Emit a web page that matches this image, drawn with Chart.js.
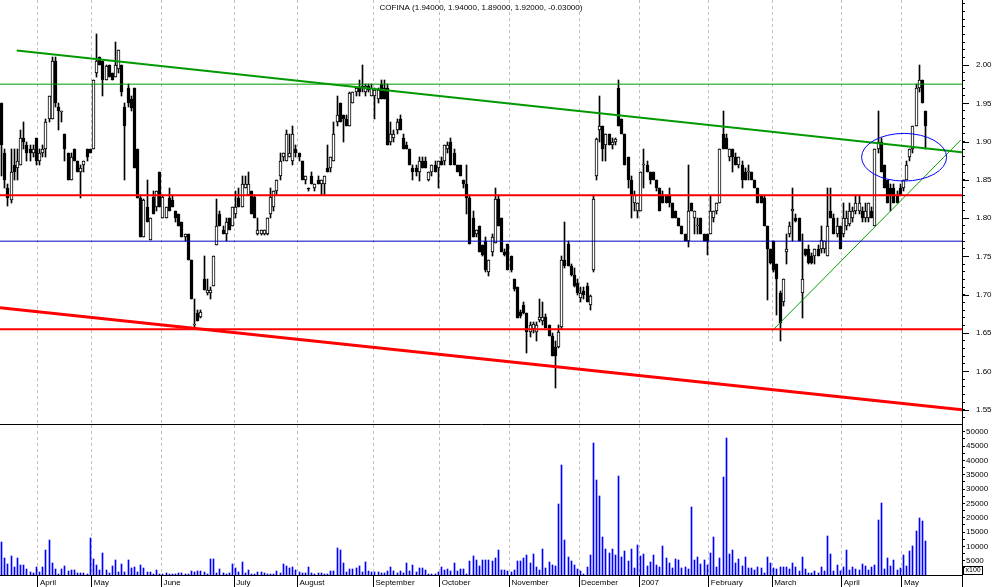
<!DOCTYPE html>
<html><head><meta charset="utf-8">
<script src="https://cdn.jsdelivr.net/npm/chart.js"></script>
<style>
html,body{margin:0;padding:0;background:#fff;}
#wrap{position:relative;width:994px;height:587px;overflow:hidden;background:#fff;}
#pc{position:absolute;left:0;top:0;width:994px;height:425px;}
#vc{position:absolute;left:0;top:425px;width:994px;height:162px;}
</style></head><body>
<div id="wrap">
<canvas id="pc" width="994" height="425"></canvas>
<canvas id="vc" width="994" height="162"></canvas>
</div>
<script>
// ---- data ----
const titleText = 'COFINA (1.94000, 1.94000, 1.89000, 1.92000, -0.03000)';
const monthLabels = ['April','May','June','July','August','September','October','November','December','2007','February','March','April','May'];
const monthStarts = [12, 29, 51, 74, 94, 118, 139, 161, 183, 202, 224, 244, 266, 285];
const priceTickLabels = ['1.55','1.60','1.65','1.70','1.75','1.80','1.85','1.90','1.95','2.00'];
const volumeTickLabels = ['5000','10000','15000','20000','25000','30000','35000','40000','45000','50000'];
const volumeScaleNote = 'x100';

const opens = [1.95,1.885,1.84,1.824,1.87,1.865,1.87,1.905,1.895,1.89,
 1.885,1.905,1.875,1.885,1.89,1.93,1.93,2.005,1.945,1.939,
 1.91,1.885,1.85,1.89,1.875,1.86,1.87,1.89,1.89,1.89,
 1.99,2.01,2.005,1.98,2.0,1.99,1.985,1.995,2.0,1.945,
 1.97,1.955,1.97,1.89,1.826,1.776,1.815,1.771,1.828,1.815,
 1.86,1.80,1.80,1.826,1.824,1.81,1.805,1.795,1.776,1.78,
 1.745,1.66,1.676,1.671,1.72,1.702,1.702,1.711,1.765,1.805,
 1.785,1.78,1.80,1.79,1.805,1.826,1.815,1.84,1.83,1.835,
 1.828,1.78,1.78,1.78,1.78,1.805,1.815,1.835,1.855,1.88,
 1.875,1.88,1.875,1.89,1.885,1.875,1.85,1.84,1.855,1.84,
 1.85,1.845,1.845,1.865,1.865,1.875,1.925,1.95,1.935,1.93,
 1.92,1.95,1.965,1.97,1.97,1.965,1.972,1.96,1.96,1.955,
 1.975,1.97,1.97,1.90,1.905,1.915,1.93,1.905,1.895,1.89,
 1.865,1.865,1.86,1.875,1.875,1.85,1.86,1.87,1.865,1.875,
 1.875,1.89,1.90,1.885,1.87,1.87,1.85,1.845,1.826,1.80,
 1.78,1.79,1.765,1.77,1.73,1.756,1.767,1.825,1.80,1.756,
 1.766,1.75,1.72,1.71,1.677,1.687,1.676,1.652,1.655,1.652,1.667,
 1.666,1.671,1.66,1.646,1.632,1.632,1.658,1.746,1.766,1.737,
 1.726,1.715,1.696,1.705,1.711,1.687,1.732,1.855,1.915,1.92,
 1.895,1.91,1.895,1.90,1.97,1.93,1.91,1.88,1.85,
 1.82,1.81,1.81,1.87,1.87,1.86,1.86,1.85,1.84,1.83,
 1.83,1.83,1.82,1.81,1.80,1.79,1.78,1.77,1.82,1.80,
 1.79,1.80,1.78,1.78,1.78,1.80,1.81,1.82,1.91,1.905,
 1.88,1.89,1.88,1.87,1.87,1.86,1.86,1.86,1.85,1.84,
 1.83,1.826,1.79,1.76,1.77,1.74,1.702,1.69,1.756,1.78,
 1.81,1.80,1.80,1.702,1.76,1.76,1.75,1.751,1.76,1.76,
 1.76,1.75,1.81,1.80,1.78,1.79,1.78,1.79,1.793,1.80,
 1.81,1.81,1.81,1.80,1.80,1.81,1.79,1.89,1.90,1.87,
 1.85,1.84,1.84,1.83,1.84,1.84,1.85,1.88,1.89,1.92,
 1.97,1.98,1.94];

const highs = [1.95,1.89,1.845,1.89,1.89,1.89,1.915,1.925,1.90,1.895,
 1.895,1.905,1.89,1.895,1.93,1.96,2.01,2.01,1.95,1.94,
 1.91,1.885,1.885,1.89,1.875,1.87,1.875,1.89,1.89,1.98,
 2.04,2.01,2.005,2.0,2.0,1.99,2.03,2.02,2.0,1.95,
 1.975,1.96,1.97,1.89,1.83,1.825,1.85,1.80,1.835,1.835,
 1.86,1.83,1.815,1.84,1.83,1.81,1.805,1.795,1.78,1.78,
 1.745,1.695,1.68,1.68,1.75,1.72,1.71,1.75,1.825,1.81,
 1.79,1.80,1.80,1.815,1.835,1.84,1.855,1.855,1.86,1.835,
 1.83,1.80,1.785,1.785,1.80,1.84,1.835,1.85,1.885,1.885,
 1.915,1.91,1.92,1.895,1.885,1.875,1.855,1.84,1.86,1.845,
 1.855,1.85,1.855,1.895,1.88,1.925,1.96,1.95,1.935,1.935,
 1.965,1.965,1.97,1.98,2.0,1.975,1.975,1.975,1.97,1.97,
 1.98,1.98,1.975,1.925,1.915,1.93,1.935,1.91,1.90,1.89,
 1.87,1.87,1.88,1.88,1.88,1.86,1.87,1.875,1.875,1.88,
 1.895,1.90,1.905,1.89,1.87,1.87,1.85,1.87,1.83,1.81,
 1.785,1.79,1.765,1.775,1.745,1.78,1.84,1.83,1.80,1.76,
 1.766,1.75,1.72,1.71,1.68,1.69,1.676,1.665,1.665,1.665,1.695,
 1.69,1.675,1.66,1.65,1.64,1.66,1.75,1.795,1.77,1.74,
 1.735,1.72,1.71,1.71,1.715,1.70,1.83,1.905,1.96,1.92,
 1.91,1.91,1.905,1.905,1.98,1.93,1.91,1.88,1.855,
 1.835,1.82,1.86,1.89,1.875,1.86,1.86,1.85,1.84,1.835,
 1.83,1.84,1.82,1.81,1.80,1.79,1.78,1.87,1.82,1.81,
 1.80,1.80,1.78,1.78,1.83,1.81,1.82,1.89,1.94,1.91,
 1.89,1.89,1.885,1.88,1.875,1.865,1.87,1.86,1.85,1.84,
 1.83,1.83,1.79,1.76,1.77,1.74,1.705,1.72,1.78,1.795,
 1.84,1.805,1.80,1.78,1.76,1.765,1.755,1.76,1.765,1.79,
 1.77,1.84,1.84,1.805,1.80,1.79,1.82,1.81,1.82,1.815,
 1.83,1.83,1.815,1.82,1.82,1.815,1.89,1.94,1.905,1.87,
 1.85,1.845,1.845,1.835,1.845,1.85,1.875,1.89,1.92,1.975,
 2.00,1.98,1.94];

const lows = [1.855,1.84,1.816,1.82,1.85,1.85,1.87,1.89,1.875,1.875,
 1.88,1.87,1.87,1.88,1.88,1.925,1.93,1.945,1.915,1.925,
 1.875,1.85,1.85,1.875,1.86,1.826,1.86,1.875,1.885,1.89,
 1.985,2.0,1.96,1.98,1.985,1.98,1.985,1.99,1.96,1.85,
 1.945,1.94,1.865,1.826,1.776,1.776,1.795,1.771,1.806,1.81,
 1.815,1.80,1.80,1.81,1.815,1.795,1.79,1.776,1.77,1.745,
 1.695,1.658,1.666,1.67,1.706,1.70,1.695,1.711,1.765,1.79,
 1.78,1.77,1.785,1.79,1.80,1.815,1.815,1.84,1.83,1.805,
 1.80,1.778,1.778,1.778,1.778,1.80,1.81,1.83,1.85,1.875,
 1.875,1.88,1.87,1.88,1.875,1.85,1.845,1.835,1.845,1.835,
 1.845,1.83,1.83,1.86,1.86,1.875,1.92,1.925,1.90,1.92,
 1.92,1.95,1.96,1.96,1.965,1.96,1.965,1.96,1.93,1.95,
 1.955,1.955,1.895,1.895,1.90,1.91,1.915,1.89,1.89,1.87,
 1.85,1.855,1.848,1.865,1.865,1.848,1.855,1.86,1.84,1.87,
 1.87,1.885,1.87,1.87,1.86,1.855,1.84,1.806,1.766,1.776,
 1.775,1.756,1.75,1.73,1.725,1.75,1.767,1.79,1.756,1.75,
 1.732,1.73,1.705,1.67,1.67,1.675,1.624,1.645,1.65,1.64,1.665,
 1.66,1.656,1.646,1.62,1.578,1.63,1.655,1.735,1.737,1.725,
 1.71,1.70,1.69,1.695,1.69,1.68,1.73,1.85,1.90,1.875,
 1.875,1.895,1.89,1.895,1.92,1.91,1.87,1.84,1.80,
 1.81,1.80,1.81,1.84,1.86,1.845,1.85,1.835,1.81,1.82,
 1.82,1.815,1.80,1.80,1.79,1.78,1.77,1.762,1.81,1.78,
 1.78,1.78,1.77,1.752,1.78,1.795,1.805,1.82,1.89,1.89,
 1.875,1.86,1.87,1.865,1.84,1.85,1.85,1.85,1.84,1.82,
 1.82,1.79,1.693,1.74,1.73,1.674,1.64,1.685,1.74,1.775,
 1.77,1.795,1.77,1.67,1.75,1.74,1.74,1.74,1.75,1.755,
 1.755,1.75,1.80,1.78,1.775,1.76,1.775,1.785,1.79,1.795,
 1.805,1.805,1.795,1.795,1.795,1.80,1.79,1.885,1.86,1.84,
 1.82,1.81,1.82,1.82,1.83,1.835,1.85,1.875,1.885,1.92,
 1.965,1.95,1.89];

const closes = [1.895,1.85,1.826,1.86,1.86,1.875,1.905,1.90,1.885,1.885,
 1.89,1.875,1.885,1.89,1.925,1.96,2.005,1.95,1.94,1.94,
 1.89,1.85,1.88,1.875,1.86,1.865,1.875,1.88,1.885,1.98,
 2.005,2.0,1.98,1.999,1.985,1.98,2.0,2.02,1.965,1.92,
 1.95,1.944,1.865,1.826,1.776,1.824,1.795,1.80,1.806,1.835,
 1.815,1.828,1.815,1.81,1.815,1.80,1.79,1.776,1.78,1.745,
 1.695,1.661,1.666,1.678,1.706,1.706,1.706,1.75,1.79,1.79,
 1.78,1.795,1.785,1.815,1.815,1.815,1.845,1.845,1.845,1.805,
 1.80,1.785,1.785,1.785,1.80,1.828,1.835,1.85,1.875,1.885,
 1.91,1.885,1.91,1.885,1.88,1.85,1.855,1.838,1.845,1.845,
 1.845,1.85,1.855,1.86,1.88,1.91,1.935,1.925,1.93,1.92,
 1.963,1.965,1.97,1.965,1.972,1.972,1.968,1.97,1.967,1.967,
 1.955,1.955,1.895,1.91,1.91,1.925,1.915,1.89,1.89,1.87,
 1.86,1.86,1.875,1.865,1.865,1.86,1.87,1.86,1.875,1.87,
 1.895,1.895,1.87,1.87,1.86,1.855,1.845,1.826,1.766,1.776,
 1.785,1.756,1.752,1.732,1.745,1.776,1.825,1.79,1.756,1.752,
 1.732,1.732,1.707,1.67,1.672,1.676,1.652,1.66,1.662,1.661,1.671,
 1.671,1.656,1.646,1.62,1.62,1.652,1.746,1.737,1.737,1.726,
 1.711,1.702,1.702,1.70,1.691,1.698,1.825,1.904,1.92,1.89,
 1.91,1.895,1.90,1.904,1.92,1.91,1.87,1.85,1.83,
 1.83,1.82,1.86,1.87,1.86,1.85,1.85,1.84,1.81,1.82,
 1.82,1.82,1.80,1.80,1.79,1.78,1.77,1.81,1.81,1.81,
 1.79,1.78,1.77,1.77,1.81,1.81,1.82,1.89,1.89,1.89,
 1.89,1.88,1.87,1.88,1.85,1.85,1.861,1.85,1.84,1.82,
 1.82,1.79,1.76,1.741,1.732,1.72,1.663,1.72,1.76,1.79,
 1.812,1.796,1.77,1.72,1.752,1.741,1.741,1.76,1.751,1.771,
 1.77,1.79,1.80,1.78,1.79,1.76,1.80,1.80,1.81,1.81,
 1.82,1.82,1.80,1.81,1.82,1.80,1.89,1.90,1.86,1.84,
 1.82,1.83,1.82,1.82,1.83,1.85,1.87,1.89,1.92,1.97,
 1.98,1.95,1.92];

const volumes = [11630,6050,3840,6630,2800,6050,3490,3490,2100,1050,
 700,2800,1050,2800,8720,12210,4190,2100,300,2100,
 3140,1500,1750,1750,700,700,700,350,12910,5580,
 3490,1750,7680,1750,700,3140,5230,1050,3840,1050,
 5230,2440,2800,1050,3490,2440,1050,1050,350,1750,
 300,300,700,350,350,350,700,700,350,350,
 1400,1050,1400,1400,1050,350,5580,5580,700,2100,
 700,350,700,3840,2440,1050,4540,700,1750,350,
 350,1050,1050,700,0,0,0,1400,700,3840,
 3140,2440,2800,1750,1050,700,700,2800,700,350,
 700,700,350,350,1400,1400,9420,8720,4190,1050,
 2100,2100,2440,3140,1050,4540,1400,1050,1050,1050,
 700,700,1400,2800,1400,700,1400,700,4190,1400,
 3490,1050,2440,2440,1750,350,350,350,1050,2800,
 1750,2100,1400,4190,1400,2100,2100,350,4880,6630,
 5230,3140,5230,5230,5230,4880,5930,8720,1750,1750,
 1400,1050,1750,4880,4880,5930,6980,4190,7330,2800,
 1750,9070,2440,4540,3490,3140,24770,38380,12210,6280,
 4880,3490,2100,1400,350,2800,6980,46050,33150,27560,
 13260,9070,7680,9070,6980,34540,6280,8370,4880,9070,
 2440,10470,6630,7330,3140,4540,6980,3490,2800,10120,
 5930,4190,2440,5580,5230,2440,2800,2100,23730,5230,
 6280,3840,5230,3490,7680,13260,2800,5930,34190,47800,
 7330,8720,4190,5580,3140,6280,2440,2440,1750,2800,
 2440,700,6280,4190,2440,2100,2800,2800,2800,2100,
 4190,2800,1400,6280,2100,700,700,1400,700,2800,
 1400,13610,7330,1400,3490,1400,2800,8720,1750,2800,
 2100,1750,3840,3140,1750,2800,3490,19190,25120,2100,
 5930,3140,5230,1750,2440,6980,3140,8370,10120,15350,
 19890,18840,11860];

// drawn studies: [startIndex, startPrice, endIndex, endPrice]
const greenTrend = [4.8, 2.019, 303.5, 1.886];
const redTrend = [-0.5, 1.683, 303.5, 1.550];
const supportTrend = [243.5, 1.653, 303.1, 1.902];
const greenLevels = [1.975];
const redLevels = [1.83, 1.655];
const blueLevels = [1.77];
const ellipseStudy = {cx: 285.2, cy: 1.8796, rx: 13.43, ry: 0.0311};

// ---- chart setup ----
const N_SLOTS = 304;
const PRICE_MIN = 1.5313, PRICE_MAX = 2.0849;
const VOL_MAX = 52340;
const FONT = {family: "'Liberation Sans', Arial, sans-serif", size: 8};
Chart.defaults.font.family = FONT.family;
Chart.defaults.font.size = 8;
Chart.defaults.color = '#000';

const idx = opens.map((_, i) => i);
const wickData = idx.map(i => ({x: i, y: [lows[i], highs[i]]}));
const bodyData = idx.map(i => ({x: i, y: [Math.min(opens[i], closes[i]), Math.max(opens[i], closes[i])]}));
const bodyFill = idx.map(i => closes[i] >= opens[i] ? '#ffffff' : '#000000');
const volData = volumes.map((v, i) => ({x: i, y: v}));

const seg = a => [{x: a[0], y: a[1]}, {x: a[2], y: a[3]}];
const flat = v => [{x: -0.5, y: v}, {x: N_SLOTS - 0.5, y: v}];
const lineDs = (data, color, w) => ({type: 'line', data, borderColor: color, borderWidth: w,
  pointRadius: 0, fill: false, tension: 0, order: 0});

const snapPlugin = {
  id: 'snap',
  beforeDatasetsDraw(chart) {
    chart.data.datasets.forEach((ds, di) => {
      const meta = chart.getDatasetMeta(di);
      if (meta.type !== 'bar') return;
      meta.data.forEach(el => {
        el.x = Math.floor(el.x) + 0.5;
        el.y = Math.round(el.y);
        el.base = Math.round(el.base);
        if (Math.abs(el.base - el.y) < 1) el.y = el.base - 1;
      });
    });
  }
};

const ellipsePlugin = {
  id: 'ellipseStudy',
  afterDatasetsDraw(chart) {
    const {ctx, scales: {x, y}} = chart;
    const e = ellipseStudy;
    const px = x.getPixelForValue(e.cx), py = y.getPixelForValue(e.cy);
    const rx = x.getPixelForValue(e.cx + e.rx) - px;
    const ry = py - y.getPixelForValue(e.cy + e.ry);
    ctx.save();
    ctx.strokeStyle = '#0000ff';
    ctx.lineWidth = 1;
    ctx.beginPath();
    ctx.ellipse(px, py, rx, ry, 0, 0, Math.PI * 2);
    ctx.stroke();
    ctx.restore();
  }
};

// longer tick marks on the labelled price levels
const majorTickPlugin = {
  id: 'majorTicks',
  afterDraw(chart) {
    const {ctx} = chart;
    const ys = chart.scales.y;
    const x0 = Math.round(ys.left);
    ctx.save();
    ctx.strokeStyle = '#000';
    ctx.lineWidth = 1;
    ctx.beginPath();
    priceTickLabels.forEach(l => {
      const py = Math.round(ys.getPixelForValue(parseFloat(l))) + 0.5;
      ctx.moveTo(x0, py);
      ctx.lineTo(x0 + 7, py);
    });
    ctx.stroke();
    ctx.restore();
  }
};

// right axis continues down through the date strip + volume multiplier box
const volumeAxisExtras = {
  id: 'volExtras',
  afterDraw(chart) {
    const {ctx, chartArea} = chart;
    const ys = chart.scales.y;
    const xr = Math.round(ys.left) + 0.5;
    ctx.save();
    ctx.strokeStyle = '#000';
    ctx.lineWidth = 1;
    ctx.beginPath();
    ctx.moveTo(xr, chartArea.bottom);
    ctx.lineTo(xr, chart.height);
    ctx.stroke();
    ctx.font = "7px 'Liberation Sans', Arial, sans-serif";
    ctx.fillStyle = '#000';
    ctx.textBaseline = 'middle';
    ctx.textAlign = 'left';
    const w = Math.ceil(ctx.measureText(volumeScaleNote).width) + 3;
    const by = Math.round(ys.getPixelForValue(0)) - 9;
    ctx.strokeRect(xr + 1, by + 0.5, w, 8);
    ctx.fillText(volumeScaleNote, xr + 3, by + 4.5);
    ctx.restore();
  }
};

const monthTicks = s => { s.ticks = monthStarts.map(i => ({value: i - 0.5})); };
const noPad = s => { s.paddingTop = 0; s.paddingBottom = 0; s.paddingLeft = 0; s.paddingRight = 0; };

const priceDatasets = [
  ...greenLevels.map(v => lineDs(flat(v), '#009a00', 1)),
  ...blueLevels.map(v => lineDs(flat(v), '#0000c8', 1)),
  ...redLevels.map(v => lineDs(flat(v), '#ff0000', 2)),
  lineDs(seg(redTrend), '#ff0000', 3),
  lineDs(seg(greenTrend), '#009a00', 2),
  lineDs(seg(supportTrend), '#00a000', 1),
  {type: 'bar', data: bodyData, backgroundColor: bodyFill, borderColor: '#000', borderWidth: 1,
   borderSkipped: false, barThickness: 3, minBarLength: 1, grouped: false, order: 1},
  {type: 'bar', data: wickData, backgroundColor: '#000', borderWidth: 0,
   barThickness: 1, grouped: false, order: 2}
];

new Chart(document.getElementById('pc'), {
  type: 'bar',
  data: {datasets: priceDatasets},
  options: {
    responsive: false, animation: false, devicePixelRatio: 1, events: [],
    layout: {padding: 0},
    plugins: {
      legend: {display: false}, tooltip: {enabled: false},
      title: {display: true, text: titleText, color: '#000', fullSize: false,
        font: {size: 8, weight: 'normal'}, padding: {top: 3, bottom: -12.6}}
    },
    scales: {
      x: {type: 'linear', min: -0.5, max: N_SLOTS - 0.5, offset: false, bounds: 'data',
        afterBuildTicks: monthTicks,
        ticks: {display: false},
        grid: {offset: false, color: '#c0c0c0', lineWidth: 1, drawTicks: false},
        border: {display: true, color: '#000', width: 1, dash: [3, 3]},
        afterFit: s => { s.height = 1; noPad(s); }},
      y: {position: 'right', min: PRICE_MIN, max: PRICE_MAX,
        afterBuildTicks: s => { const t = []; for (let k = 154; k <= 208; k++) t.push({value: k / 100}); s.ticks = t; },
        ticks: {autoSkip: false, padding: 11, color: '#000', font: FONT,
          callback: v => { const s = v.toFixed(2); return priceTickLabels.includes(s) ? s : ''; }},
        grid: {offset: false, drawOnChartArea: false, tickLength: 3, tickColor: '#000'},
        border: {display: true, color: '#000'},
        afterFit: s => { s.width = 32; noPad(s); }}
    }
  },
  plugins: [snapPlugin, ellipsePlugin, majorTickPlugin]
});

new Chart(document.getElementById('vc'), {
  type: 'bar',
  data: {datasets: [{data: volData, backgroundColor: '#0000ff', borderWidth: 0, barThickness: 1}]},
  options: {
    responsive: false, animation: false, devicePixelRatio: 1, events: [],
    layout: {padding: 0},
    plugins: {legend: {display: false}, tooltip: {enabled: false}},
    scales: {
      x: {type: 'linear', min: -0.5, max: N_SLOTS - 0.5, offset: false, bounds: 'data',
        afterBuildTicks: monthTicks,
        ticks: {autoSkip: false, maxRotation: 0, align: 'start', padding: -9, labelOffset: 2,
          color: '#000', font: FONT, callback: (v, i) => monthLabels[i]},
        grid: {offset: false, color: '#c0c0c0', lineWidth: 1, tickLength: 12, tickColor: '#000', tickBorderDash: []},
        border: {display: true, color: '#000', width: 1, dash: [3, 3]},
        afterFit: s => { s.height = 12; noPad(s); }},
      y: {position: 'right', min: 0, max: VOL_MAX,
        afterBuildTicks: s => { const t = []; for (let v = 2500; v <= 50000; v += 2500) t.push({value: v}); s.ticks = t; },
        ticks: {autoSkip: false, padding: 1, color: '#000', font: FONT,
          callback: v => { const s = String(v); return volumeTickLabels.includes(s) ? s : ''; }},
        grid: {offset: false, drawOnChartArea: false, tickLength: 3, tickColor: '#000'},
        border: {display: true, color: '#000'},
        afterFit: s => { s.width = 32; noPad(s); }}
    }
  },
  plugins: [snapPlugin, volumeAxisExtras]
});
</script>
</body></html>
